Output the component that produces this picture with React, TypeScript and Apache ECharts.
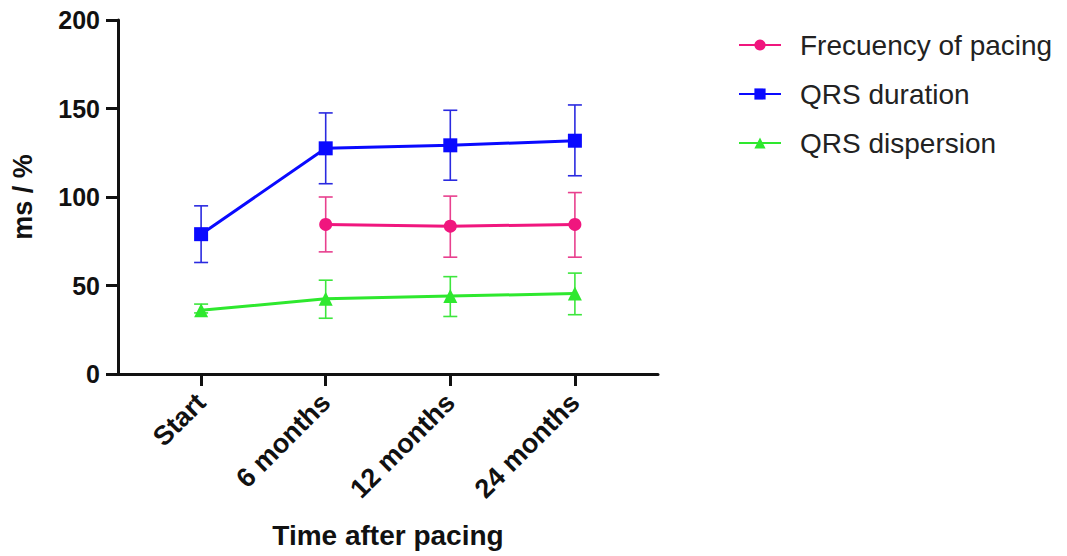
import React, { useEffect, useRef } from "react";
import * as echarts from "echarts";

const categories = ["Start", "6 months", "12 months", "24 months"];
const seriesNames = ["Frecuency of pacing", "QRS duration", "QRS dispersion"];

const pacingMean = [null, 84.5, 83.5, 84.5];
const pacingLow = [null, 69, 66, 66];
const pacingHigh = [null, 100, 100.5, 102.5];

const qrsMean = [79, 127.5, 129.2, 131.8];
const qrsLow = [63, 107.5, 109.5, 112];
const qrsHigh = [95, 147.5, 149, 152];

const dispMean = [36, 42.5, 44, 45.5];
const dispLow = [34.5, 31.5, 32.5, 33.5];
const dispHigh = [39.5, 53, 55, 57];

const yTicks = [0, 50, 100, 150, 200];

const colors = ["#f0167e", "#0a0aff", "#2ee82e"];
const barColors = ["#e8408e", "#2a2ae0", "#3de63d"];

function pts(vals: (number | null)[]) {
  return vals.map((v, i) => [i, v]);
}
function bars(lo: (number | null)[], hi: (number | null)[]) {
  const out: any[] = [];
  lo.forEach((l, i) => {
    if (l != null && hi[i] != null) out.push([i, l, hi[i]]);
  });
  return out;
}

function errorSeries(data: any[], color: string) {
  return {
    type: "custom",
    silent: true,
    z: 1,
    data,
    renderItem: (params: any, api: any) => {
      const x = api.value(0);
      const lo = api.coord([x, api.value(1)]);
      const hi = api.coord([x, api.value(2)]);
      const w = 7;
      const st = { stroke: color, lineWidth: 1.6 };
      return {
        type: "group",
        children: [
          { type: "line", shape: { x1: lo[0], y1: lo[1], x2: hi[0], y2: hi[1] }, style: st },
          { type: "line", shape: { x1: lo[0] - w, y1: lo[1], x2: lo[0] + w, y2: lo[1] }, style: st },
          { type: "line", shape: { x1: hi[0] - w, y1: hi[1], x2: hi[0] + w, y2: hi[1] }, style: st },
        ],
      };
    },
  };
}

export default function App() {
  const ref = useRef<HTMLDivElement>(null);
  useEffect(() => {
    document.body.style.margin = "0";
    const chart = echarts.init(ref.current!, null, { renderer: "svg" });
    const font = "'Liberation Sans', Arial, sans-serif";
    chart.setOption({
      animation: false,
      backgroundColor: "#ffffff",
      grid: { left: 118, right: 409, top: 20, bottom: 182, containLabel: false },
      legend: {
        left: 738,
        top: 31,
        padding: 0,
        orient: "vertical",
        itemWidth: 42,
        itemHeight: 14,
        itemGap: 21,
        data: seriesNames,
        textStyle: { fontFamily: font, fontSize: 28, color: "#222", padding: [0, 0, 0, 14] },
      },
      xAxis: {
        type: "value",
        min: -0.667,
        max: 3.667,
        splitLine: { show: false },
        axisLine: { show: true, onZero: false, lineStyle: { color: "#111", width: 3 } },
        axisTick: { show: true, customValues: [0, 1, 2, 3], length: 12, lineStyle: { color: "#111", width: 3 } },
        axisLabel: {
          customValues: [0, 1, 2, 3],
          formatter: (v: number) => categories[Math.round(v)] ?? "",
          rotate: 45,
          margin: 24,
          fontFamily: font,
          fontWeight: "bold",
          fontSize: 27,
          color: "#111",
        },
        name: "Time after pacing",
        nameLocation: "middle",
        nameGap: 147,
        nameTextStyle: { fontFamily: font, fontWeight: "bold", fontSize: 28, color: "#111" },
      },
      yAxis: {
        type: "value",
        min: yTicks[0],
        max: yTicks[yTicks.length - 1],
        interval: 50,
        splitLine: { show: false },
        axisLine: { show: true, onZero: false, lineStyle: { color: "#111", width: 3 } },
        axisTick: { show: true, length: 12, lineStyle: { color: "#111", width: 3 } },
        axisLabel: { fontFamily: font, fontWeight: "bold", fontSize: 25, color: "#111", margin: 18 },
        name: "ms / %",
        nameLocation: "middle",
        nameRotate: 90,
        nameGap: 82,
        nameTextStyle: { fontFamily: font, fontWeight: "bold", fontSize: 27, color: "#111" },
      },
      series: [
        errorSeries(bars(pacingLow, pacingHigh), barColors[0]),
        errorSeries(bars(qrsLow, qrsHigh), barColors[1]),
        errorSeries(bars(dispLow, dispHigh), barColors[2]),
        {
          name: seriesNames[0],
          type: "line",
          z: 3,
          data: pts(pacingMean),
          symbol: "circle",
          symbolSize: 13,
          itemStyle: { color: colors[0] },
          lineStyle: { color: colors[0], width: 3 },
        },
        {
          name: seriesNames[1],
          type: "line",
          z: 3,
          data: pts(qrsMean),
          symbol: "rect",
          symbolSize: 14,
          itemStyle: { color: colors[1] },
          lineStyle: { color: colors[1], width: 3 },
        },
        {
          name: seriesNames[2],
          type: "line",
          z: 3,
          data: pts(dispMean),
          symbol: "triangle",
          symbolSize: 14,
          itemStyle: { color: colors[2] },
          lineStyle: { color: colors[2], width: 3 },
        },
      ],
    });
    return () => chart.dispose();
  }, []);
  return <div ref={ref} style={{ width: 1067, height: 556 }} />;
}
